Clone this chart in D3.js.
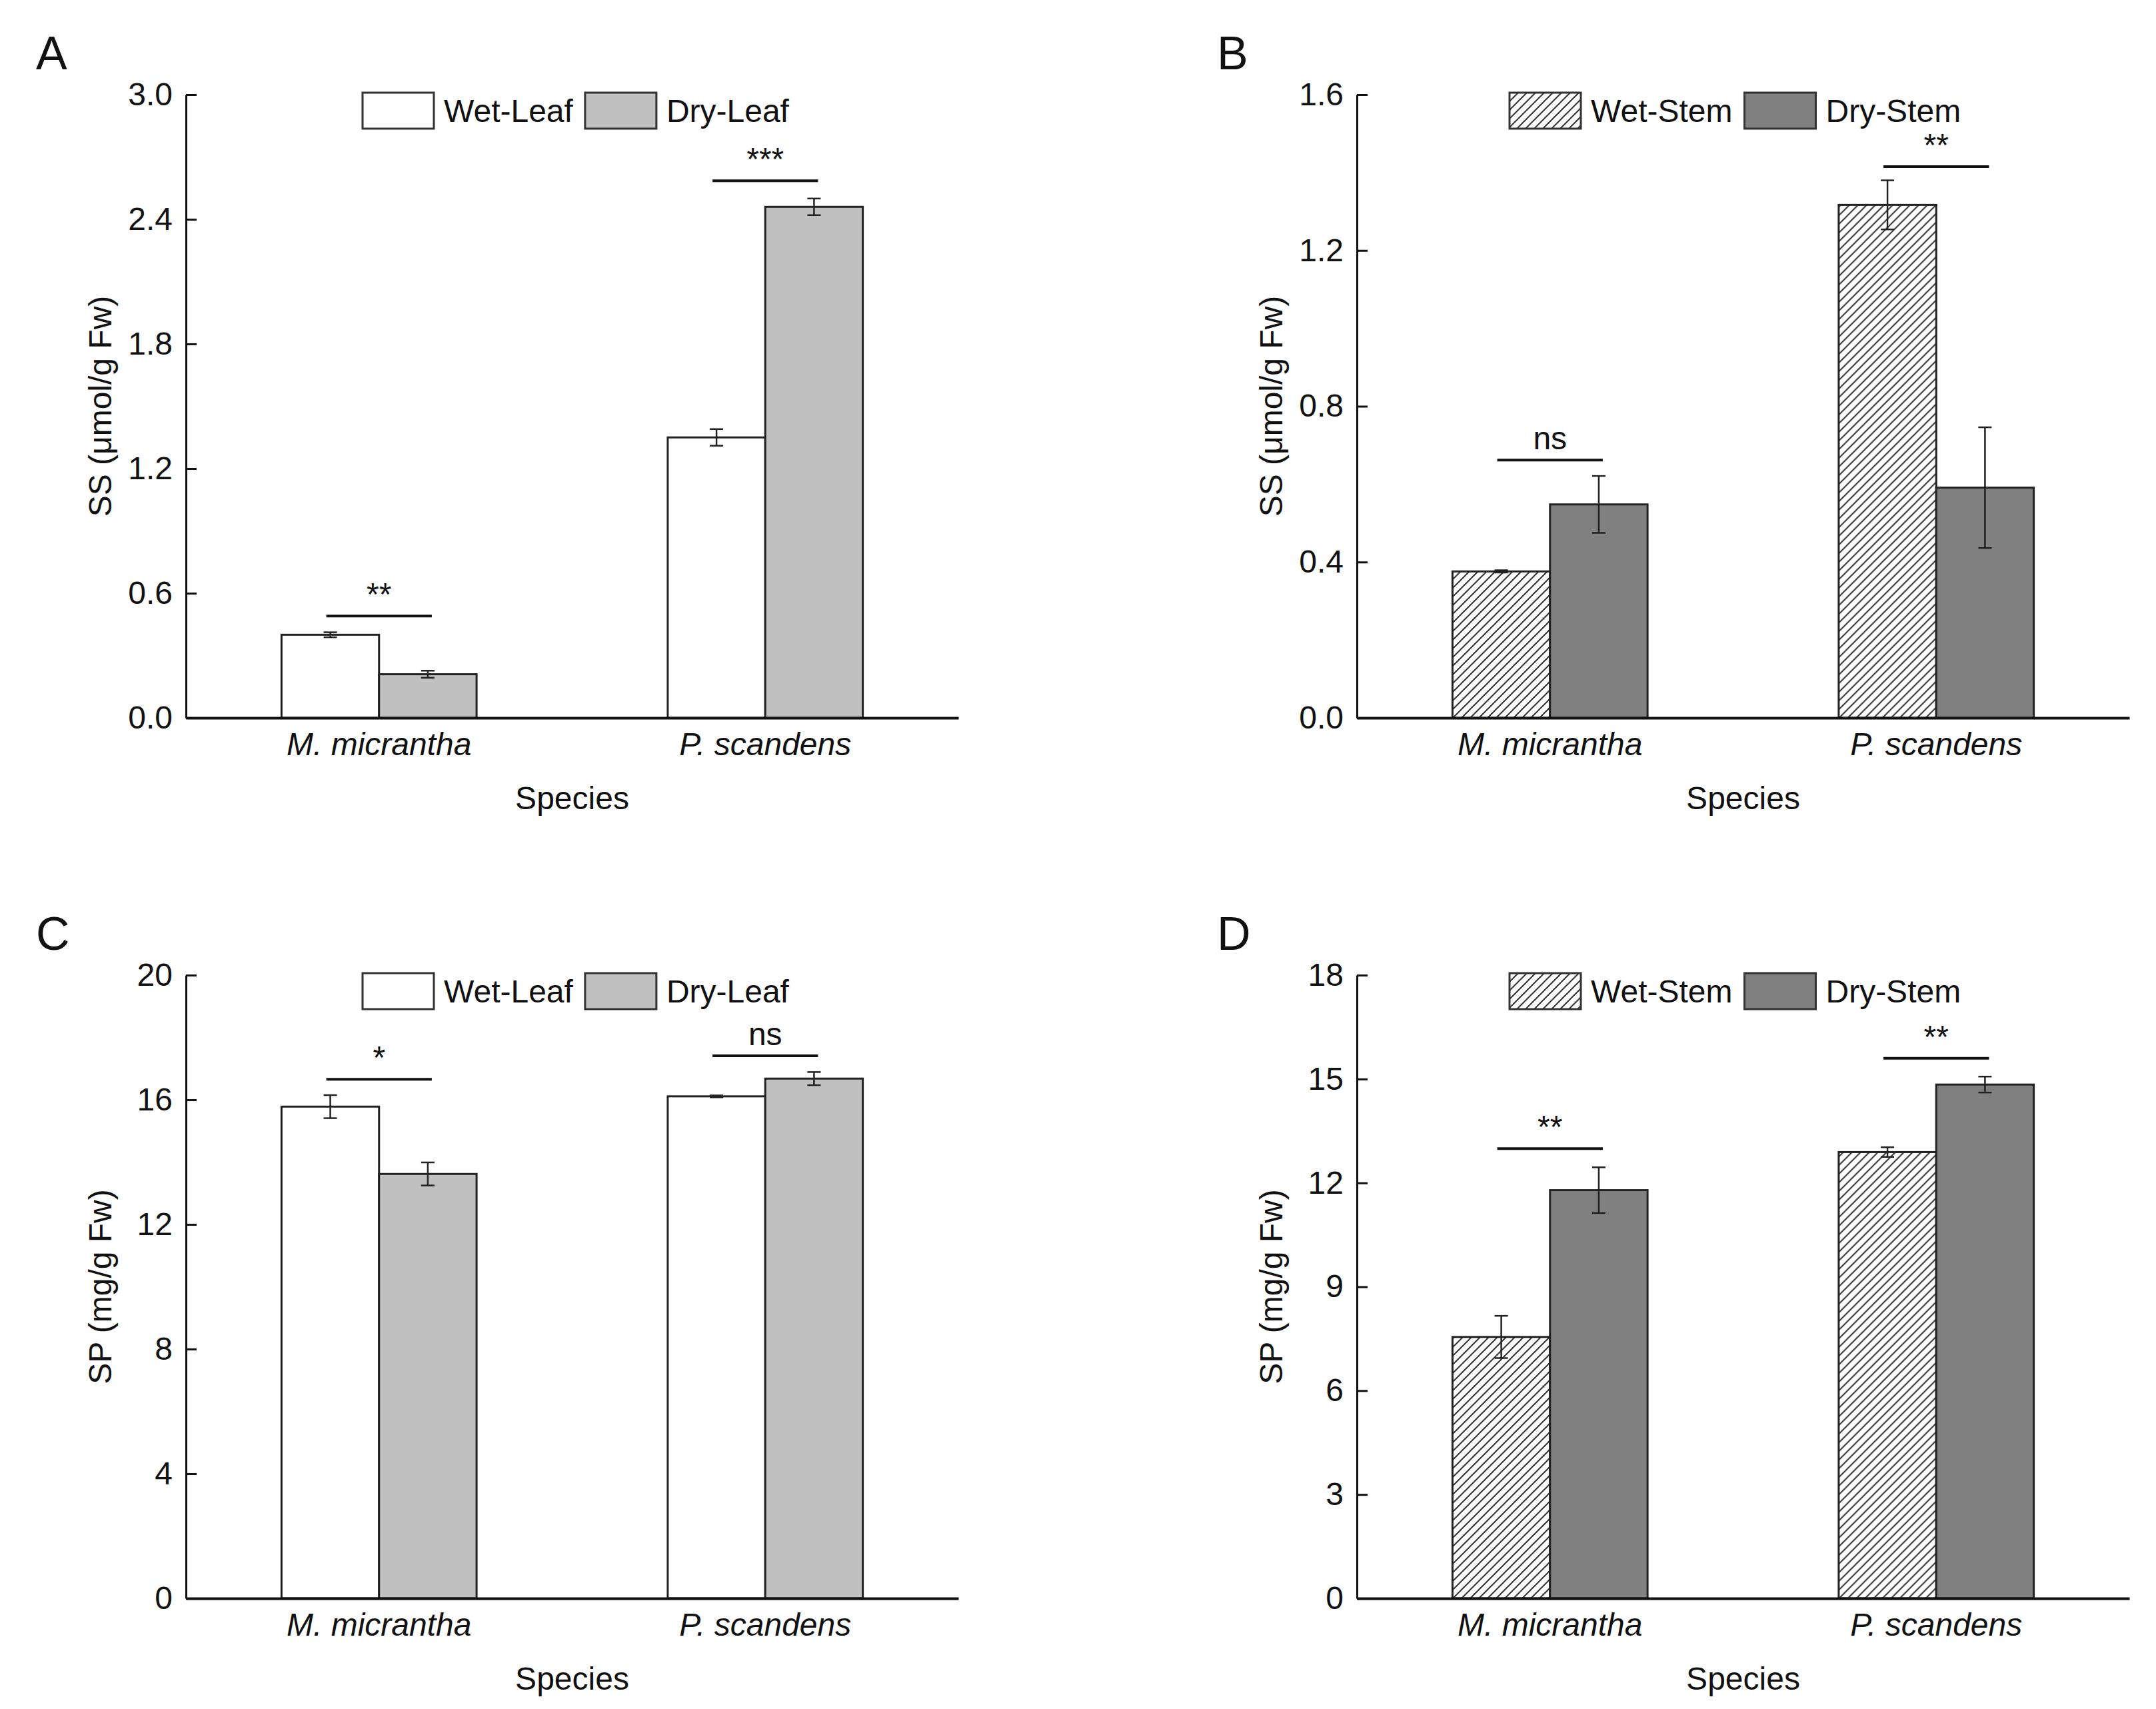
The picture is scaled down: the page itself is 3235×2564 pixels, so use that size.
<!DOCTYPE html>
<html>
<head>
<meta charset="utf-8">
<script src="https://d3js.org/d3.v7.min.js"></script>
<style>
  body { margin: 0; background: #fff; }
  text { font-family: "Liberation Sans", Arial, sans-serif; fill: #111; }
</style>
</head>
<body>
<div id="chart"></div>
<script>
// categories + series names
var species = ["M. micrantha", "P. scandens"];
var leafSeries = ["Wet-Leaf", "Dry-Leaf"];
var stemSeries = ["Wet-Stem", "Dry-Stem"];

// A - SS leaf
var ssLeafWet = [0.40, 1.35];
var ssLeafWetErr = [0.012, 0.04];
var ssLeafDry = [0.21, 2.46];
var ssLeafDryErr = [0.017, 0.04];
var ssLeafSig = ["**", "***"];
var ssLeafSigAt = [0.49, 2.585];
var ssLeafTicks = [0, 0.6, 1.2, 1.8, 2.4, 3.0];

// B - SS stem
var ssStemWet = [0.376, 1.317];
var ssStemWetErr = [0.003, 0.063];
var ssStemDry = [0.548, 0.591];
var ssStemDryErr = [0.073, 0.155];
var ssStemSig = ["ns", "**"];
var ssStemSigAt = [0.662, 1.415];
var ssStemTicks = [0, 0.4, 0.8, 1.2, 1.6];

// C - SP leaf
var spLeafWet = [15.78, 16.11];
var spLeafWetErr = [0.37, 0.03];
var spLeafDry = [13.62, 16.68];
var spLeafDryErr = [0.37, 0.21];
var spLeafSig = ["*", "ns"];
var spLeafSigAt = [16.66, 17.41];
var spLeafTicks = [0, 4, 8, 12, 16, 20];

// D - SP stem
var spStemWet = [7.55, 12.89];
var spStemWetErr = [0.61, 0.14];
var spStemDry = [11.79, 14.84];
var spStemDryErr = [0.66, 0.23];
var spStemSig = ["**", "**"];
var spStemSigAt = [12.99, 15.6];
var spStemTicks = [0, 3, 6, 9, 12, 15, 18];

var W = 3235, H = 2564;
var plotW = 1159, plotH = 935;

var svg = d3.select("#chart").append("svg")
  .attr("width", W)
  .attr("height", H)
  .style("background", "#fff");

// diagonal hatch for the wet stem bars
var defs = svg.append("defs");
var pat = defs.append("pattern")
  .attr("id", "hatch")
  .attr("patternUnits", "userSpaceOnUse")
  .attr("width", 13)
  .attr("height", 13);
pat.append("rect").attr("width", 13).attr("height", 13).attr("fill", "#fff");
pat.append("path")
  .attr("d", "M-3,3 L3,-3 M0,13 L13,0 M10,16 L16,10")
  .attr("stroke", "#333")
  .attr("stroke-width", 2);

function drawPanel(p) {
  var g = svg.append("g")
    .attr("transform", "translate(" + p.left + "," + p.top + ")");

  var x = d3.scaleBand().domain(species).range([0, plotW]).padding(0);
  var xs = d3.scaleBand().domain(p.series).range([0, x.bandwidth()]).paddingOuter(0.98);
  var y = d3.scaleLinear().domain([0, d3.max(p.ticks)]).range([plotH, 0]);
  var fills = p.fills;

  var rows = species.map(function(s, i) {
    return [
      { sp: s, key: p.series[0], v: p.wet[i], e: p.wetErr[i] },
      { sp: s, key: p.series[1], v: p.dry[i], e: p.dryErr[i] }
    ];
  });

  var grp = g.selectAll(".grp").data(rows).enter().append("g")
    .attr("class", "grp")
    .attr("transform", function(d) { return "translate(" + x(d[0].sp) + ",0)"; });

  grp.selectAll("rect").data(function(d) { return d; }).enter().append("rect")
    .attr("x", function(d) { return xs(d.key); })
    .attr("y", function(d) { return y(d.v); })
    .attr("width", xs.bandwidth())
    .attr("height", function(d) { return plotH - y(d.v); })
    .attr("fill", function(d) { return fills[p.series.indexOf(d.key)]; })
    .attr("stroke", "#222")
    .attr("stroke-width", 3);

  // error bars
  var eb = grp.selectAll(".eb").data(function(d) { return d; }).enter().append("g")
    .attr("class", "eb")
    .attr("stroke", "#222")
    .attr("stroke-width", 2.5);
  eb.append("line")
    .attr("x1", function(d) { return xs(d.key) + xs.bandwidth() / 2; })
    .attr("x2", function(d) { return xs(d.key) + xs.bandwidth() / 2; })
    .attr("y1", function(d) { return y(d.v + d.e); })
    .attr("y2", function(d) { return y(d.v - d.e); });
  [1, -1].forEach(function(sgn) {
    eb.append("line")
      .attr("x1", function(d) { return xs(d.key) + xs.bandwidth() / 2 - 10; })
      .attr("x2", function(d) { return xs(d.key) + xs.bandwidth() / 2 + 10; })
      .attr("y1", function(d) { return y(d.v + sgn * d.e); })
      .attr("y2", function(d) { return y(d.v + sgn * d.e); });
  });

  // significance lines
  species.forEach(function(s, i) {
    var x1 = x(s) + xs(p.series[0]) + xs.bandwidth() / 2 - 6;
    var x2 = x(s) + xs(p.series[1]) + xs.bandwidth() / 2 + 6;
    var yy = y(p.sigAt[i]);
    g.append("line")
      .attr("x1", x1).attr("x2", x2)
      .attr("y1", yy).attr("y2", yy)
      .attr("stroke", "#111")
      .attr("stroke-width", 4);
    g.append("text")
      .attr("x", (x1 + x2) / 2)
      .attr("y", yy - 16)
      .attr("text-anchor", "middle")
      .style("font-size", "48px")
      .text(p.sig[i]);
  });

  // axes
  var yAxis = d3.axisLeft(y)
    .tickValues(p.ticks)
    .tickFormat(p.fmt)
    .tickSizeInner(-16)
    .tickSizeOuter(0)
    .tickPadding(20);
  var ya = g.append("g").call(yAxis);
  ya.selectAll("path, line").attr("stroke", "#111").attr("stroke-width", 3);
  ya.selectAll("text").style("font-size", "48px").attr("font-family", null).attr("fill", "#111");

  var xAxis = d3.axisBottom(x).tickSize(0).tickPadding(22);
  var xa = g.append("g").attr("transform", "translate(0," + plotH + ")").call(xAxis);
  xa.select(".domain").attr("stroke", "#111").attr("stroke-width", 4);
  xa.selectAll("text").style("font-size", "48px").style("font-style", "italic")
    .attr("font-family", null).attr("fill", "#111");

  // axis titles
  g.append("text")
    .attr("x", plotW / 2)
    .attr("y", plotH + 137)
    .attr("text-anchor", "middle")
    .style("font-size", "48px")
    .text("Species");

  g.append("text")
    .attr("transform", "rotate(-90)")
    .attr("x", -plotH / 2)
    .attr("y", -112)
    .attr("text-anchor", "middle")
    .style("font-size", "48px")
    .text(p.yTitle);

  // panel letter
  g.append("text")
    .attr("x", p.letterX)
    .attr("y", -38)
    .style("font-size", "70px")
    .text(p.letter);

  // legend
  var lg = g.append("g").attr("transform", "translate(" + p.legendX + "," + (-3) + ")");
  var lx = 0;
  p.series.forEach(function(name, i) {
    lg.append("rect")
      .attr("x", lx).attr("y", 0)
      .attr("width", 107).attr("height", 54)
      .attr("fill", fills[i])
      .attr("stroke", "#333")
      .attr("stroke-width", 3);
    var t = lg.append("text")
      .attr("x", lx + 122)
      .attr("y", 27)
      .attr("dy", "0.35em")
      .style("font-size", "48px")
      .text(name);
    lx = lx + 122 + t.node().getComputedTextLength() + 18;
  });
}

var fmt1 = d3.format(".1f");
var fmt0 = d3.format("d");

drawPanel({ letter: "A", left: 279, top: 142, letterX: -225, legendX: 265,
  series: leafSeries, fills: ["#ffffff", "#c0c0c0"],
  wet: ssLeafWet, wetErr: ssLeafWetErr, dry: ssLeafDry, dryErr: ssLeafDryErr,
  sig: ssLeafSig, sigAt: ssLeafSigAt, ticks: ssLeafTicks, fmt: fmt1,
  yTitle: "SS (μmol/g Fw)" });

drawPanel({ letter: "B", left: 2036, top: 142, letterX: -210, legendX: 229,
  series: stemSeries, fills: ["url(#hatch)", "#808080"],
  wet: ssStemWet, wetErr: ssStemWetErr, dry: ssStemDry, dryErr: ssStemDryErr,
  sig: ssStemSig, sigAt: ssStemSigAt, ticks: ssStemTicks, fmt: fmt1,
  yTitle: "SS (μmol/g Fw)" });

drawPanel({ letter: "C", left: 279, top: 1463, letterX: -225, legendX: 265,
  series: leafSeries, fills: ["#ffffff", "#c0c0c0"],
  wet: spLeafWet, wetErr: spLeafWetErr, dry: spLeafDry, dryErr: spLeafDryErr,
  sig: spLeafSig, sigAt: spLeafSigAt, ticks: spLeafTicks, fmt: fmt0,
  yTitle: "SP (mg/g Fw)" });

drawPanel({ letter: "D", left: 2036, top: 1463, letterX: -210, legendX: 229,
  series: stemSeries, fills: ["url(#hatch)", "#808080"],
  wet: spStemWet, wetErr: spStemWetErr, dry: spStemDry, dryErr: spStemDryErr,
  sig: spStemSig, sigAt: spStemSigAt, ticks: spStemTicks, fmt: fmt0,
  yTitle: "SP (mg/g Fw)" });
</script>
</body>
</html>
